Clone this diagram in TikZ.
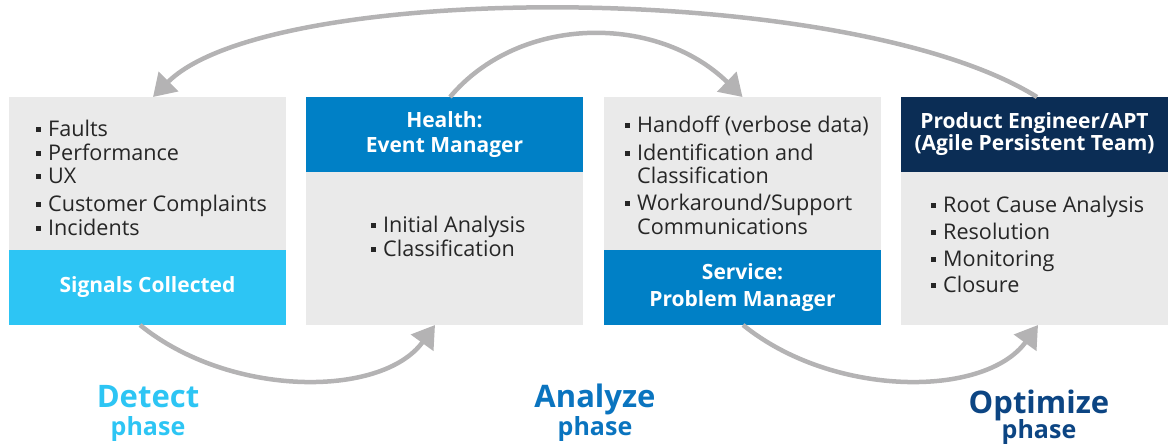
\documentclass[tikz,border=0pt]{standalone}
\usepackage{fontspec}
\setmainfont{Open Sans}
\usetikzlibrary{arrows.meta}
\definecolor{sigcyan}{HTML}{2DC5F4}
\definecolor{intblue}{HTML}{0080C6}
\definecolor{navy}{HTML}{0B2D55}
\definecolor{boxgray}{HTML}{EAEAEA}
\definecolor{arrgray}{HTML}{B4B3B4}
\definecolor{ink}{HTML}{262626}
\definecolor{anablue}{HTML}{0A74BF}
\definecolor{optblue}{HTML}{0C4583}
\newcommand{\bu}{\rule[5pt]{4.5pt}{4.5pt}\hspace{7.5pt}}
\newcommand{\li}{\fontsize{21.6}{24}\selectfont}
\newcommand{\hd}{\fontsize{21}{25}\selectfont\bfseries}

\begin{document}
\begin{tikzpicture}[x=1pt,y=-1pt,
  part/.style={anchor=north west, inner sep=0pt, outer sep=0pt},
  item/.style={anchor=base west, inner sep=0pt, text=ink, font=\li},
  head/.style={text=white, align=center, font=\hd},
  big/.style={anchor=base, inner sep=0pt, font=\fontsize{31}{32}\selectfont\bfseries},
  small/.style={anchor=base, inner sep=0pt, font=\fontsize{25}{26}\selectfont\bfseries},
  cyc/.style={arrgray, line width=4.5pt, -{Triangle[length=22pt,width=27pt]}}]
  \useasboundingbox (0,0) rectangle (1170,446);
  \node[part, fill=boxgray, minimum width=277pt, minimum height=153pt] (sigtop)  at (  9, 97) {};
  \node[part, fill=sigcyan, minimum width=277pt, minimum height= 75pt] (sigbot)  at (  9,250) {};
  \node[part, fill=intblue, minimum width=277pt, minimum height= 75pt] (evtop)   at (306, 97) {};
  \node[part, fill=boxgray, minimum width=277pt, minimum height=153pt] (evbot)   at (306,172) {};
  \node[part, fill=boxgray, minimum width=277pt, minimum height=153pt] (prbtop)  at (604, 97) {};
  \node[part, fill=intblue, minimum width=277pt, minimum height= 75pt] (prbbot)  at (604,250) {};
  \node[part, fill=navy   , minimum width=267pt, minimum height= 75pt] (apttop)  at (901, 97) {};
  \node[part, fill=boxgray, minimum width=267pt, minimum height=153pt] (aptbot)  at (901,172) {};
  \node[head] (sighd) at (sigbot) {Signals Collected};
  \node[head] (evhd)  at (evtop)  {Health:\\Event Manager};
  \node[head, font=\fontsize{21}{27}\selectfont\bfseries] (prbhd) at (prbbot) {Service:\\Problem Manager};
  \node[head, font=\fontsize{21}{22}\selectfont\bfseries] (apthd) at (apttop) {Product Engineer/APT\\(Agile Persistent Team)};
  \node[item] (s1) at ( 36,137) {\bu Faults};
  \node[item] (s2) at ( 36,161) {\bu Performance};
  \node[item] (s3) at ( 36,184) {\bu UX};
  \node[item] (s4) at ( 36,212) {\bu Customer Complaints};
  \node[item] (s5) at ( 36,236) {\bu Incidents};
  \node[item] (e1) at (371,233) {\bu Initial Analysis};
  \node[item] (e2) at (371,257) {\bu Classification};
  \node[item] (p1) at (625,133) {\bu Handoff (verbose data)};
  \node[item] (p2) at (625,161) {\bu Identification and};
  \node[item] (p3) at (637,184) {Classification};
  \node[item] (p4) at (625,211) {\bu Workaround/Support};
  \node[item] (p5) at (637,235) {Communications};
  \node[item] (a1) at (931,213) {\bu Root Cause Analysis};
  \node[item] (a2) at (931,240) {\bu Resolution};
  \node[item] (a3) at (931,267) {\bu Monitoring};
  \node[item] (a4) at (931,293) {\bu Closure};
  \node[big,   text=sigcyan] (detect)   at ( 148,407) {Detect};
  \node[small, text=sigcyan] (detectph) at ( 148,435) {phase};
  \node[big,   text=anablue] (analyze)  at ( 595,407) {Analyze};
  \node[small, text=anablue] (analyzph) at ( 595,435) {phase};
  \node[big,   text=optblue] (optim)    at (1039,413) {Optimize};
  \node[small, text=optblue] (optimph)  at (1039,438) {phase};
  \draw[cyc] ([xshift=2.5pt]apttop.north) .. controls +(-187,-117) and +(117,-117) .. ([xshift=5.5pt]sigtop.north);
  \draw[cyc] ([xshift=5.5pt]evtop.north)  .. controls +(70,-83) and +(-85,-83) .. (prbtop.north);
  \draw[cyc] ([xshift=-7.5pt]sigbot.south) .. controls +(90,73) and +(-53,73) .. ([xshift=-9.5pt]evbot.south);
  \draw[cyc] ([xshift=0.5pt]prbbot.south) .. controls +(90,73) and +(-53,73) .. ([xshift=3.5pt]aptbot.south);
\end{tikzpicture}
\end{document}
